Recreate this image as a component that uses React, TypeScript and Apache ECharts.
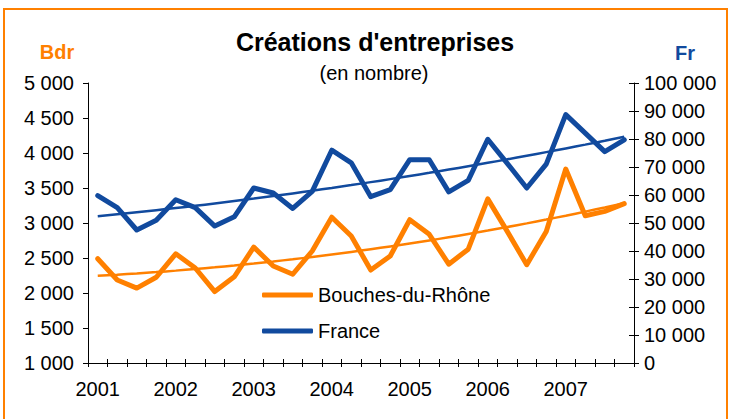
import React, { useEffect, useRef } from "react";
import * as echarts from "echarts";

const years = ["2001", "2002", "2003", "2004", "2005", "2006", "2007"];
const quarters = ["T1", "T2", "T3", "T4"];
const categories = years.flatMap((y) => quarters.map((q) => `${y} ${q}`));

const bdrValues = [
  2490, 2185, 2070, 2225, 2560, 2357, 2020, 2232, 2655, 2385, 2268, 2600, 3083, 2815,
  2328, 2528, 3047, 2838, 2412, 2626, 3345, 2880, 2404, 2880, 3771, 3104, 3166, 3276,
];
const frValues = [
  59800, 55500, 47500, 51000, 58300, 55500, 48900, 52200, 62500, 60700, 55200, 61300, 76000, 71500,
  59400, 61900, 72600, 72600, 61100, 65200, 79900, 71300, 62500, 71000, 88700, 82100, 75500, 79700,
];

const bdrTicks = { min: 1000, max: 5000, interval: 500 };
const frTicks = { min: 0, max: 100000, interval: 10000 };

const ORANGE = "#FF8000";
const BLUE = "#114A9E";
const FONT = "Liberation Sans, Arial, sans-serif";

// Polynomial (order 2) least-squares trend, as in the spreadsheet trendline
function polyTrend(values: number[]): number[] {
  const xs = values.map((_, i) => i + 1);
  const s = [0, 0, 0, 0, 0];
  const t = [0, 0, 0];
  xs.forEach((x, i) => {
    let p = 1;
    for (let k = 0; k < 5; k++) {
      s[k] += p;
      if (k < 3) t[k] += p * values[i];
      p *= x;
    }
  });
  const A = [
    [s[0], s[1], s[2], t[0]],
    [s[1], s[2], s[3], t[1]],
    [s[2], s[3], s[4], t[2]],
  ];
  for (let c = 0; c < 3; c++) {
    let piv = c;
    for (let r = c + 1; r < 3; r++) if (Math.abs(A[r][c]) > Math.abs(A[piv][c])) piv = r;
    [A[c], A[piv]] = [A[piv], A[c]];
    for (let r = 0; r < 3; r++) {
      if (r === c) continue;
      const f = A[r][c] / A[c][c];
      for (let k = c; k < 4; k++) A[r][k] -= f * A[c][k];
    }
  }
  const a0 = A[0][3] / A[0][0];
  const a1 = A[1][3] / A[1][1];
  const a2 = A[2][3] / A[2][2];
  return xs.map((x) => a0 + a1 * x + a2 * x * x);
}

const fmt = (v: number) => String(v).replace(/\B(?=(\d{3})+(?!\d))/g, " ");

export default function App() {
  const ref = useRef<HTMLDivElement>(null);
  useEffect(() => {
    document.body.style.margin = "0";
    const chart = echarts.init(ref.current!, null, { renderer: "svg" });
    const labelStyle = { color: "#000", fontFamily: FONT, fontSize: 20 };
    const tick = { color: "#000", width: 1 };
    chart.setOption({
      animation: false,
      backgroundColor: "#fff",
      textStyle: { fontFamily: FONT },
      grid: { left: 88, right: 97, top: 83, bottom: 56, outerBoundsMode: "none" },
      legend: {
        data: ["Bouches-du-Rhône", "France"],
        orient: "vertical",
        left: 262,
        top: 284,
        padding: 0,
        itemWidth: 51,
        itemHeight: 5,
        itemGap: 14,
        icon: "roundRect",
        textStyle: { color: "#000", fontFamily: FONT, fontSize: 20, lineHeight: 22, padding: 0 },
      },
      graphic: [
        {
          type: "rect",
          shape: { x: 4, y: 9, width: 723, height: 500 },
          style: { fill: "none", stroke: ORANGE, lineWidth: 2 },
          silent: true,
        },
        {
          type: "text",
          x: 375,
          y: 42,
          style: {
            text: "Créations d'entreprises",
            fill: "#000",
            font: `bold 25px ${FONT}`,
            textAlign: "center",
            textVerticalAlign: "middle",
          },
        },
        {
          type: "text",
          x: 374,
          y: 73,
          style: {
            text: "(en nombre)",
            fill: "#000",
            font: `20px ${FONT}`,
            textAlign: "center",
            textVerticalAlign: "middle",
          },
        },
        {
          type: "text",
          x: 57,
          y: 52,
          style: { text: "Bdr", fill: ORANGE, font: `bold 20px ${FONT}`, textAlign: "center", textVerticalAlign: "middle" },
        },
        {
          type: "text",
          x: 685,
          y: 53,
          style: { text: "Fr", fill: BLUE, font: `bold 20px ${FONT}`, textAlign: "center", textVerticalAlign: "middle" },
        },
      ],
      xAxis: [
        {
          type: "category",
          data: categories,
          boundaryGap: true,
          axisLine: { lineStyle: tick },
          axisTick: { show: true, interval: 0, length: 4, lineStyle: tick },
          axisLabel: {
            ...labelStyle,
            interval: 0,
            margin: 16,
            formatter: (v: string, i: number) => (i % 4 === 0 ? v.slice(0, 4) : ""),
          },
          splitLine: { show: false },
        },
        {
          type: "category",
          data: categories,
          position: "bottom",
          boundaryGap: true,
          axisLine: { show: false },
          axisTick: { show: true, inside: true, interval: 0, length: 4, lineStyle: tick },
          axisLabel: { show: false },
          splitLine: { show: false },
        },
      ],
      yAxis: [
        {
          type: "value",
          position: "left",
          ...bdrTicks,
          axisLine: { show: true, lineStyle: tick },
          axisTick: { show: true, length: 5, lineStyle: tick },
          axisLabel: { ...labelStyle, margin: 14, formatter: (v: number) => fmt(v) },
          splitLine: { show: false },
        },
        {
          type: "value",
          position: "right",
          ...frTicks,
          axisLine: { show: true, lineStyle: tick },
          axisTick: { show: true, length: 5, lineStyle: tick },
          axisLabel: { ...labelStyle, margin: 10, formatter: (v: number) => fmt(v) },
          splitLine: { show: false },
        },
        {
          type: "value",
          position: "right",
          ...frTicks,
          axisLine: { show: false },
          axisTick: { show: true, inside: true, length: 5, lineStyle: tick },
          axisLabel: { show: false },
          splitLine: { show: false },
        },
      ],
      series: [
        {
          name: "Bouches-du-Rhône",
          type: "line",
          yAxisIndex: 0,
          data: bdrValues,
          symbol: "none",
          color: ORANGE,
          lineStyle: { color: ORANGE, width: 5, join: "round", cap: "round" },
          z: 3,
        },
        {
          name: "France",
          type: "line",
          yAxisIndex: 1,
          data: frValues,
          symbol: "none",
          color: BLUE,
          lineStyle: { color: BLUE, width: 5, join: "round", cap: "round" },
          z: 3,
        },
        {
          name: "Tendance Bdr",
          type: "line",
          yAxisIndex: 0,
          data: polyTrend(bdrValues),
          symbol: "none",
          smooth: true,
          lineStyle: { color: ORANGE, width: 2.5 },
          z: 4,
        },
        {
          name: "Tendance Fr",
          type: "line",
          yAxisIndex: 1,
          data: polyTrend(frValues),
          symbol: "none",
          smooth: true,
          lineStyle: { color: BLUE, width: 2.5 },
          z: 4,
        },
      ],
    });
    return () => chart.dispose();
  }, []);
  return <div ref={ref} style={{ position: "fixed", left: 0, top: 0, width: 731, height: 419 }} />;
}
